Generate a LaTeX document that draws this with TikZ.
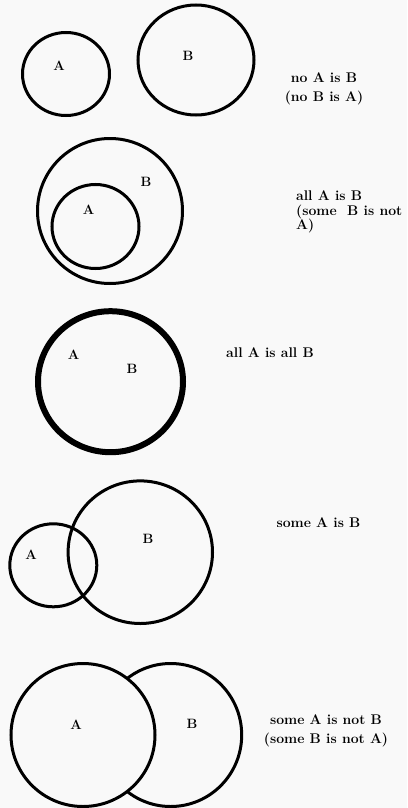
\documentclass[tikz,border=0pt]{standalone}
\definecolor{bg}{RGB}{249,249,249}
\begin{document}
\begin{tikzpicture}[x=1pt,y=-1pt,
  ring/.style={draw=black,line width=3pt},
  thickring/.style={draw=black,line width=6pt},
  lbl/.style={font=\fontsize{13.5}{15}\selectfont\bfseries,inner sep=0pt},
  caption/.style={font=\fontsize{14}{19}\selectfont\bfseries,inner sep=0pt,align=center},
  captionl/.style={font=\fontsize{14}{14.5}\selectfont\bfseries,inner sep=0pt,align=left,anchor=west}]
\fill[bg] (0,0) rectangle (407,808);
\useasboundingbox (0,0) rectangle (407,808);
% Panel 1
\draw[ring] (66,74) ellipse [x radius=43.5, y radius=41.5];
\draw[ring] (196,60) ellipse [x radius=58, y radius=55];
\node[lbl] (p1a) at (59,66) {A};
\node[lbl] (p1b) at (188,56) {B};
\node[caption] (p1t) at (324,88.5) {no A is B\\(no B is A)};
% Panel 2
\draw[ring] (110,211) ellipse [x radius=72.5, y radius=72.5];
\draw[ring] (95.5,226.5) ellipse [x radius=43.5, y radius=42];
\node[lbl] (p2b) at (146,182) {B};
\node[lbl] (p2a) at (88.5,210) {A};
\node[captionl] (p2t) at (296,212) {all A is B\\(some~ B is not\\A)};
% Panel 3
\draw[thickring] (110.5,381.7) ellipse [x radius=72.5, y radius=70.5];
\node[lbl] (p3a) at (73.5,355) {A};
\node[lbl] (p3b) at (132,369) {B};
\node[caption] (p3t) at (270,352.5) {all A is all B};
% Panel 4
\draw[ring] (53.3,565.3) ellipse [x radius=43.5, y radius=41.5];
\draw[ring] (140.3,552.2) ellipse [x radius=72.2, y radius=71.3];
\node[lbl] (p4a) at (31,555) {A};
\node[lbl] (p4b) at (148,539) {B};
\node[caption] (p4t) at (318.5,522.5) {some A is B};
% Panel 5
\draw[ring] (170.7,735) ellipse [x radius=71, y radius=71.5];
\draw[ring,fill=bg] (83,735) ellipse [x radius=72, y radius=71.5];
\node[lbl] (p5a) at (76,724.5) {A};
\node[lbl] (p5b) at (192,723.5) {B};
\node[caption] (p5t) at (326,730.5) {some A is not B\\(some B is not A)};
\end{tikzpicture}
\end{document}
